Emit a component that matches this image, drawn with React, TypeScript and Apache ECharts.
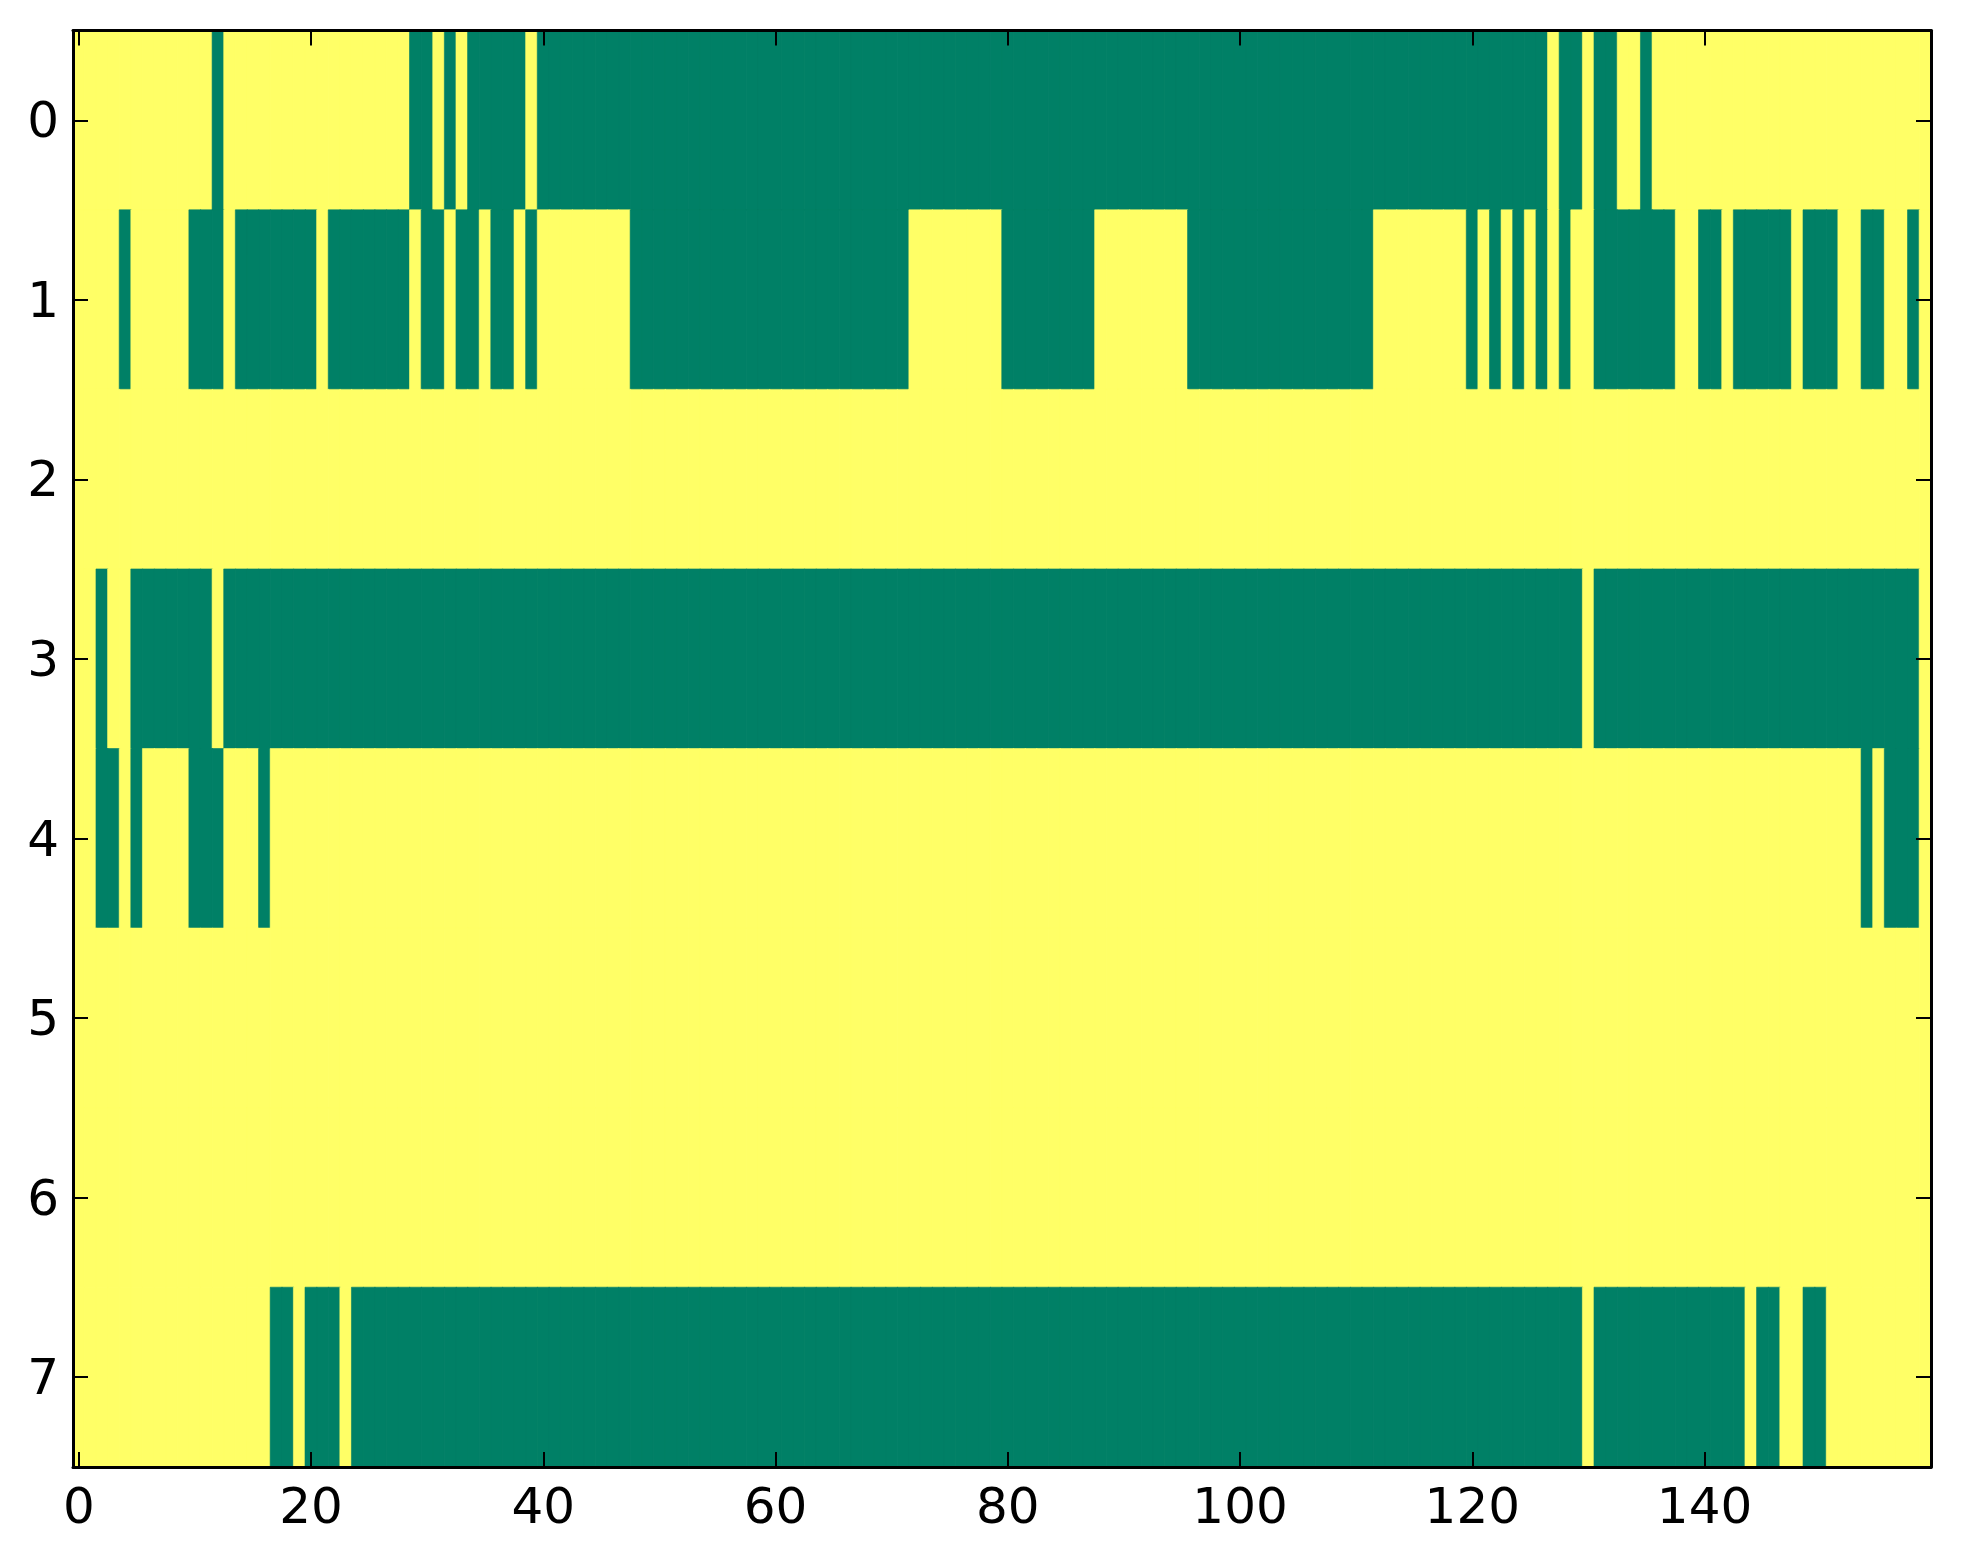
import React, { useEffect, useRef } from "react";
import * as echarts from "echarts";

// Column index categories (0..159) and the labelled ticks
const X_CATEGORIES: string[] = Array.from({ length: 160 }, (_, i) => String(i));
const X_TICK_LABELS: string[] = ["0", "20", "40", "60", "80", "100", "120", "140"];
const Y_CATEGORIES: string[] = ["0", "1", "2", "3", "4", "5", "6", "7"];

// Cell values per row, 160 columns each (1 = yellow / high, 0 = green / low), grouped by tens
const ROW_0 = "1111111111 1101111111 1111111110 0101000001 0000000000 0000000000 0000000000 0000000000 0000000000 0000000000 0000000000 0000000000 0000000100 1001101111 1111111111 1111111111";
const ROW_1 = "1111011111 0001000000 0100000001 0010010010 1111111100 0000000000 0000000000 0011111111 0000000011 1111110000 0000000000 0011111111 0101010101 1000000011 0010000010 0011001101";
const ROW_2 = "1111111111 1111111111 1111111111 1111111111 1111111111 1111111111 1111111111 1111111111 1111111111 1111111111 1111111111 1111111111 1111111111 1111111111 1111111111 1111111111";
const ROW_3 = "1101100000 0010000000 0000000000 0000000000 0000000000 0000000000 0000000000 0000000000 0000000000 0000000000 0000000000 0000000000 0000000000 1000000000 0000000000 0000000001";
const ROW_4 = "1100101111 0001110111 1111111111 1111111111 1111111111 1111111111 1111111111 1111111111 1111111111 1111111111 1111111111 1111111111 1111111111 1111111111 1111111111 1111010001";
const ROW_5 = "1111111111 1111111111 1111111111 1111111111 1111111111 1111111111 1111111111 1111111111 1111111111 1111111111 1111111111 1111111111 1111111111 1111111111 1111111111 1111111111";
const ROW_6 = "1111111111 1111111111 1111111111 1111111111 1111111111 1111111111 1111111111 1111111111 1111111111 1111111111 1111111111 1111111111 1111111111 1111111111 1111111111 1111111111";
const ROW_7 = "1111111111 1111111001 0001000000 0000000000 0000000000 0000000000 0000000000 0000000000 0000000000 0000000000 0000000000 0000000000 0000000000 1000000000 0000100110 0111111111";

const ROWS: string[] = [ROW_0, ROW_1, ROW_2, ROW_3, ROW_4, ROW_5, ROW_6, ROW_7];

const GREEN = "#008066";
const YELLOW = "#ffff66";

function buildData() {
  const out: any[] = [];
  ROWS.forEach((row, r) => {
    const vals = row.replace(/\s/g, "").split("").map(Number);
    vals.forEach((v, c) =>
      out.push({
        value: [c, r, v],
        itemStyle: { borderColor: v === 0 ? GREEN : YELLOW, borderWidth: 0.6 },
      })
    );
  });
  return out;
}

const isLabelled = (_i: number, v: string) => X_TICK_LABELS.indexOf(v) >= 0;

export default function App() {
  const ref = useRef<HTMLDivElement>(null);
  useEffect(() => {
    if (!ref.current) return;
    const chart = echarts.init(ref.current, undefined, { renderer: "svg" });
    const font = "DejaVu Sans";
    const axisLine = { show: true, onZero: false, lineStyle: { color: "#000", width: 3 } };
    const tickStyle = { color: "#000", width: 2 };
    chart.setOption({
      animation: false,
      backgroundColor: "#ffffff",
      grid: { left: 73, right: 32, top: 30.5, bottom: 97, containLabel: false },
      visualMap: {
        type: "piecewise",
        show: false,
        dimension: 2,
        pieces: [
          { value: 0, color: GREEN },
          { value: 1, color: YELLOW },
        ],
      },
      xAxis: [
        {
          type: "category",
          data: X_CATEGORIES,
          position: "bottom",
          z: 5,
          boundaryGap: true,
          axisLine,
          axisTick: { show: true, inside: true, length: 15, alignWithLabel: true, interval: isLabelled, lineStyle: tickStyle },
          axisLabel: { show: true, interval: isLabelled, fontSize: 50, fontFamily: font, color: "#000", margin: 14 },
          splitLine: { show: false },
        },
        {
          type: "category",
          data: X_CATEGORIES,
          position: "top",
          z: 5,
          boundaryGap: true,
          axisLine,
          axisTick: { show: true, inside: true, length: 15, alignWithLabel: true, interval: isLabelled, lineStyle: tickStyle },
          axisLabel: { show: false },
          splitLine: { show: false },
        },
      ],
      yAxis: [
        {
          type: "category",
          data: Y_CATEGORIES,
          inverse: true,
          position: "left",
          z: 5,
          axisLine,
          axisTick: { show: true, inside: true, length: 15, alignWithLabel: true, lineStyle: tickStyle },
          axisLabel: { show: true, fontSize: 50, fontFamily: font, color: "#000", margin: 14 },
          splitLine: { show: false },
        },
        {
          type: "category",
          data: Y_CATEGORIES,
          inverse: true,
          position: "right",
          z: 5,
          axisLine,
          axisTick: { show: true, inside: true, length: 15, alignWithLabel: true, lineStyle: tickStyle },
          axisLabel: { show: false },
          splitLine: { show: false },
        },
      ],
      series: [
        {
          type: "heatmap",
          xAxisIndex: 0,
          yAxisIndex: 0,
          data: buildData(),
          emphasis: { disabled: true },
        },
      ],
    });
    return () => chart.dispose();
  }, []);
  return (
    <div
      ref={ref}
      style={{ position: "absolute", left: 0, top: 0, width: 1963, height: 1564, background: "#fff" }}
    />
  );
}
